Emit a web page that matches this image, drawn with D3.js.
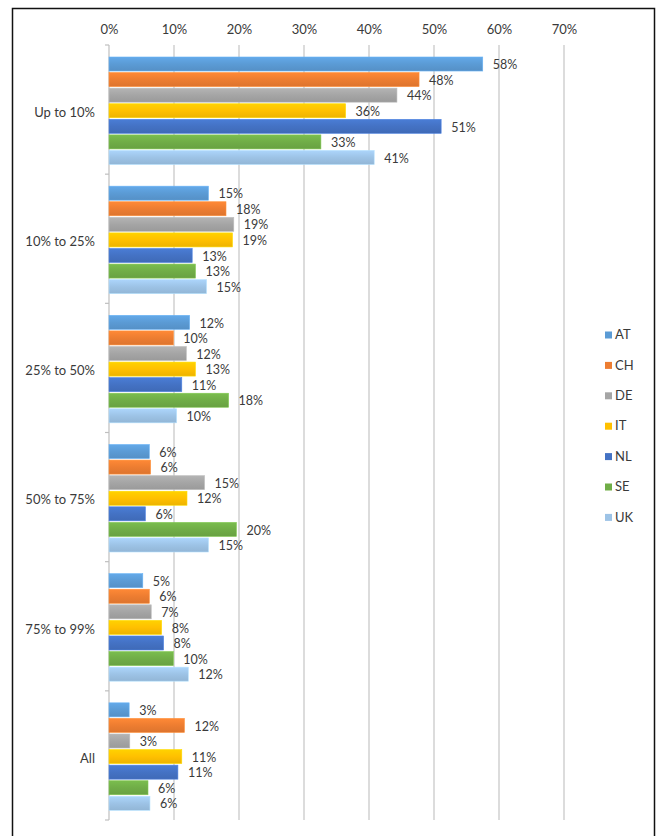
<!DOCTYPE html>
<html>
<head>
<meta charset="utf-8">
<script src="https://cdn.jsdelivr.net/npm/d3@7"></script>
<style>
  body { margin: 0; background: #fff; }
  svg text { font-family: Lato, "Noto Sans", sans-serif; fill: #3a3a3a; }
</style>
</head>
<body>
<div id="chart"></div>
<script>
// categories (top to bottom) and series
var categories = ["Up to 10%", "10% to 25%", "25% to 50%", "50% to 75%", "75% to 99%", "All"];
var series = ["AT", "CH", "DE", "IT", "NL", "SE", "UK"];
var colors = ["#5B9BD5", "#ED7D31", "#A5A5A5", "#FFC000", "#4472C4", "#70AD47", "#9DC3E6"];

// values per series, one per category
var AT = [57.5, 15.3, 12.4, 6.2, 5.2, 3.1];
var CH = [47.7, 18.0, 9.9, 6.4, 6.2, 11.6];
var DE = [44.3, 19.2, 11.9, 14.7, 6.5, 3.2];
var IT = [36.4, 19.0, 13.3, 12.0, 8.1, 11.2];
var NL = [51.1, 12.8, 11.2, 5.6, 8.4, 10.6];
var SE = [32.6, 13.3, 18.4, 19.6, 9.9, 6.0];
var UK = [40.8, 15.0, 10.4, 15.3, 12.2, 6.3];
var xTicks = [0, 10, 20, 30, 40, 50, 60, 70];

var values = [AT, CH, DE, IT, NL, SE, UK];

var width = 657, height = 836;

var svg = d3.select("#chart").append("svg")
    .attr("width", width)
    .attr("height", height);

// outer frame
svg.append("rect")
    .attr("x", 12.5).attr("y", 8.5)
    .attr("width", 642).attr("height", 840)
    .attr("fill", "none")
    .attr("stroke", "#111")
    .attr("stroke-width", 1.5);

var x_scale = d3.scaleLinear()
    .domain([0, 70])
    .range([109, 564]);

var y0 = d3.scaleBand()
    .domain(categories)
    .range([45, 820])
    .padding(0);

var y1 = d3.scaleBand()
    .domain(series)
    .range([12, 119.5])
    .paddingInner(0.1);

// gradients for the bars (lighter top, a bit darker bottom)
var defs = svg.append("defs");
series.forEach(function(s, i) {
    var c = d3.color(colors[i]);
    var grad = defs.append("linearGradient")
        .attr("id", "g" + s)
        .attr("x1", 0).attr("y1", 0).attr("x2", 0).attr("y2", 1);
    grad.append("stop").attr("offset", "0%").attr("stop-color", c.brighter(0.25));
    grad.append("stop").attr("offset", "50%").attr("stop-color", c);
    grad.append("stop").attr("offset", "100%").attr("stop-color", c.darker(0.2));
});

// vertical gridlines
svg.append("g")
    .selectAll("line")
    .data(xTicks.slice(1))
    .enter().append("line")
    .attr("x1", function(d) { return x_scale(d); })
    .attr("x2", function(d) { return x_scale(d); })
    .attr("y1", 45)
    .attr("y2", 820)
    .attr("stroke", "#d0d0d0")
    .attr("stroke-width", 1.5);

// top axis tick labels
svg.append("g")
    .attr("transform", "translate(0,45)")
    .call(d3.axisTop(x_scale)
        .tickValues(xTicks)
        .tickFormat(function(d) { return d + "%"; })
        .tickSize(0)
        .tickPadding(11))
    .call(function(g) { g.select(".domain").remove(); })
    .selectAll("text")
    .style("font-size", "13px")
    .attr("fill", "#3a3a3a");

// left category axis
var boundaries = categories.map(function(c) { return y0(c); }).concat([820]);
var leftAxis = svg.append("g");
leftAxis.append("line")
    .attr("x1", 109).attr("x2", 109)
    .attr("y1", 45).attr("y2", 820)
    .attr("stroke", "#bfbfbf")
    .attr("stroke-width", 1.2);
leftAxis.selectAll(".sep")
    .data(boundaries)
    .enter().append("line")
    .attr("class", "sep")
    .attr("x1", 105).attr("x2", 109)
    .attr("y1", function(d) { return d; })
    .attr("y2", function(d) { return d; })
    .attr("stroke", "#bfbfbf")
    .attr("stroke-width", 1.2);
leftAxis.selectAll(".cat")
    .data(categories)
    .enter().append("text")
    .attr("class", "cat")
    .attr("x", 95)
    .attr("y", function(d) { return y0(d) + y0.bandwidth() / 2 + 4; })
    .attr("text-anchor", "end")
    .attr("dominant-baseline", "middle")
    .style("font-size", "13px")
    .text(function(d) { return d; });

// bars
var rows = [];
categories.forEach(function(c, ci) {
    series.forEach(function(s, si) {
        rows.push({ cat: c, series: s, value: values[si][ci] });
    });
});

var groups = svg.selectAll(".grp")
    .data(categories)
    .enter().append("g")
    .attr("class", "grp")
    .attr("transform", function(d) { return "translate(0," + y0(d) + ")"; });

groups.selectAll("rect")
    .data(function(c) { return rows.filter(function(r) { return r.cat === c; }); })
    .enter().append("rect")
    .attr("x", x_scale(0))
    .attr("y", function(d) { return y1(d.series); })
    .attr("width", function(d) { return x_scale(d.value) - x_scale(0); })
    .attr("height", y1.bandwidth())
    .attr("fill", function(d) { return "url(#g" + d.series + ")"; })
    .attr("stroke", function(d) { return d3.color(colors[series.indexOf(d.series)]).brighter(0.4); })
    .attr("stroke-width", 0.6);

groups.selectAll(".lbl")
    .data(function(c) { return rows.filter(function(r) { return r.cat === c; }); })
    .enter().append("text")
    .attr("class", "lbl")
    .attr("x", function(d) { return x_scale(d.value) + 10; })
    .attr("y", function(d) { return y1(d.series) + y1.bandwidth() / 2 + 2; })
    .attr("dominant-baseline", "middle")
    .style("font-size", "12.5px")
    .text(function(d) { return Math.round(d.value) + "%"; });

// legend
var legend = svg.append("g")
    .attr("transform", "translate(605,335)");
var item = legend.selectAll(".item")
    .data(series)
    .enter().append("g")
    .attr("class", "item")
    .attr("transform", function(d, i) { return "translate(0," + (i * 30.4) + ")"; });
item.append("rect")
    .attr("x", 0).attr("y", -3.5)
    .attr("width", 7).attr("height", 7)
    .attr("fill", function(d, i) { return colors[i]; });
item.append("text")
    .attr("x", 10)
    .attr("y", 1)
    .attr("dominant-baseline", "middle")
    .style("font-size", "13px")
    .text(function(d) { return d; });
</script>
</body>
</html>
